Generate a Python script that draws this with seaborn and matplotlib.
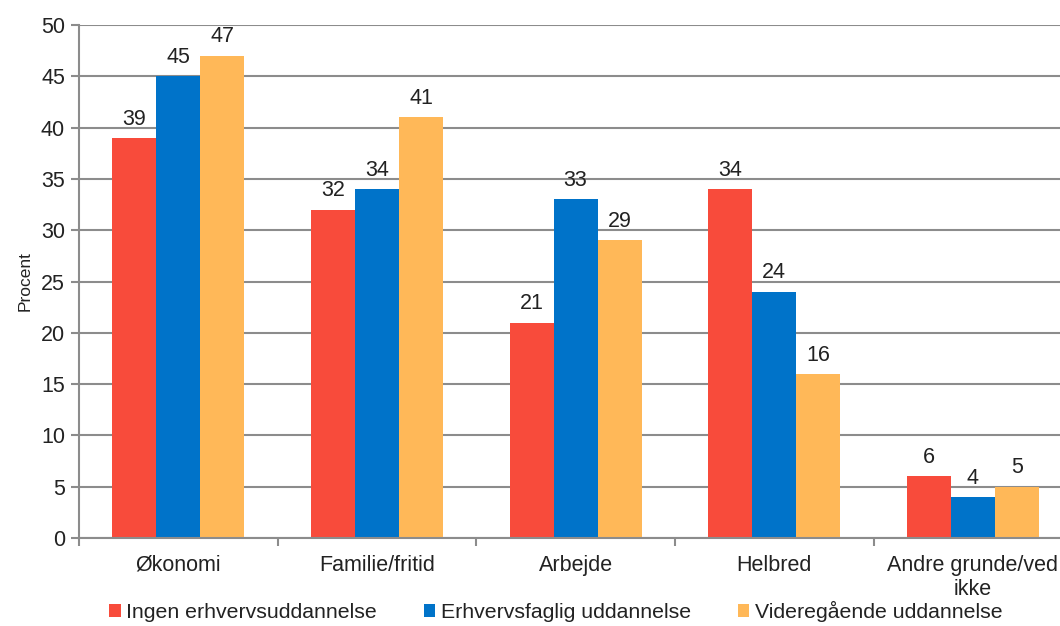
import numpy as np
import pandas as pd
import matplotlib
matplotlib.use("Agg")
import matplotlib.pyplot as plt
import seaborn as sns
from matplotlib.ticker import FixedLocator

# ── data ──────────────────────────────────────────────────────────────────────
categories = ["Økonomi", "Familie/fritid", "Arbejde", "Helbred", "Andre grunde/ved\nikke"]
series = ["Ingen erhvervsuddannelse", "Erhvervsfaglig uddannelse", "Videregående uddannelse"]
ingen = [39, 32, 21, 34, 6]
erhverv = [45, 34, 33, 24, 4]
videre = [47, 41, 29, 16, 5]
colors = ["#F84B3B", "#0073C9", "#FFB858"]

df = pd.DataFrame({
    "kategori": categories * 3,
    "gruppe": [series[0]] * 5 + [series[1]] * 5 + [series[2]] * 5,
    "procent": ingen + erhverv + videre,
})

# ── plot ──────────────────────────────────────────────────────────────────────
sns.set_style("white")
plt.rcParams["font.family"] = ["Liberation Sans", "DejaVu Sans"]

fig = plt.figure(figsize=(10.6, 6.26), dpi=100)
ax = fig.add_axes([0.0745, 0.1406, 0.937, 0.8194])

sns.barplot(data=df, x="kategori", y="procent", hue="gruppe",
            palette=colors, width=0.665, gap=0, saturation=1,
            errorbar=None, linewidth=0, ax=ax)

for cont in ax.containers:
    ax.bar_label(cont, fmt="%d", padding=6, fontsize=15.5, color="#222222")

ax.set_ylim(0, 50)
ax.set_xlim(-0.5, 4.5)
ax.set_yticks(np.arange(0, 51, 5))
ax.yaxis.grid(True, color="#8c8c8c", linewidth=1.5)
ax.set_axisbelow(True)

for s in ["top", "right"]:
    ax.spines[s].set_visible(False)
for s in ["left", "bottom"]:
    ax.spines[s].set_color("#8c8c8c")
    ax.spines[s].set_linewidth(1.5)

ax.tick_params(axis="y", labelsize=15.5, length=6, width=1.5, color="#8c8c8c",
               left=True, labelcolor="#222222", pad=4)
ax.tick_params(axis="x", which="major", length=0, labelsize=15.5,
               labelcolor="#222222", pad=12)
ax.xaxis.set_minor_locator(FixedLocator(np.arange(-0.5, 4.6, 1)))
ax.tick_params(axis="x", which="minor", length=6, width=1.5, color="#8c8c8c", bottom=True)

ax.set_xlabel("")
ax.set_ylabel("Procent", fontsize=12.5, color="#222222", labelpad=6)

handles, labels = ax.get_legend_handles_labels()
ax.legend(handles, labels, loc="center", bbox_to_anchor=(0.48, -0.144),
          ncol=3, frameon=False, fontsize=15.3, handlelength=0.55, handleheight=0.55,
          handletextpad=0.25, columnspacing=2.2, labelcolor="#222222",
          borderpad=0)

fig.savefig("out.png", dpi=100)
